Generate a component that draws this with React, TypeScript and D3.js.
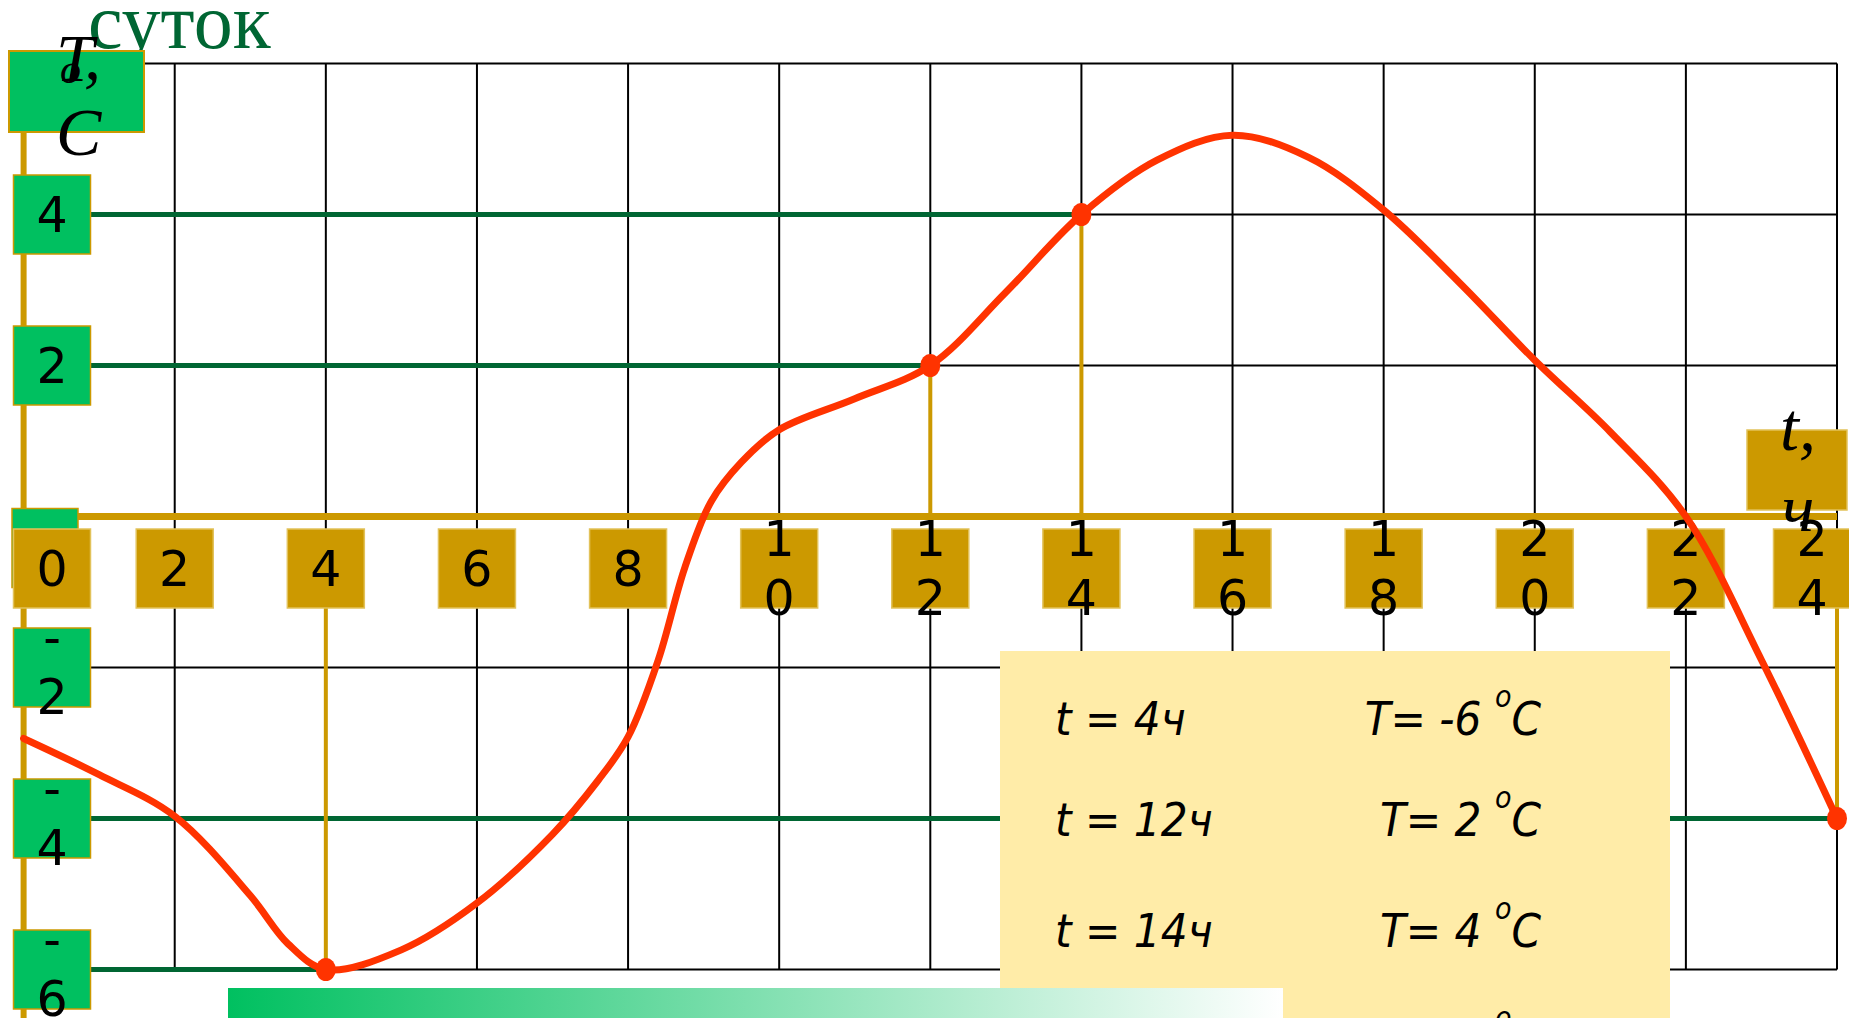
import React, { useEffect } from 'react';
import * as d3 from 'd3';

// temperature over the day
const hours = [0, 1, 2, 3, 3.5, 4, 5, 6, 7, 7.6, 8, 8.4, 8.75, 9.1, 9.5, 10, 11, 12, 13, 14, 15, 16, 17, 18, 19, 20, 21, 22, 23, 24];
const temps = [-2.94, -3.42, -3.97, -5.02, -5.66, -6, -5.74, -5.12, -4.21, -3.5, -2.92, -1.9, -0.68, 0.2, 0.72, 1.15, 1.56, 2, 2.97, 4, 4.72, 5.05, 4.76, 4.06, 3.1, 2.07, 1.12, 0, -1.9, -4];

const hourTicks = [0, 2, 4, 6, 8, 10, 12, 14, 16, 18, 20, 22, 24];
const tempTicks = [4, 2, -2, -4, -6];
const gridTemps = [6, 4, 2, -2, -4, -6];

const markedHours = [4, 12, 14, 24];
const markedTemps = [-6, 2, 4, -4];

const title = 'суток';

const W = 1849;
const H = 1018;
const GOLD = '#CC9900';
const GREEN = '#00C060';
const DARK = '#006633';
const RED = '#FF3300';
const DIGITS = "'DejaVu Sans', Verdana, sans-serif";
const SERIF = "'Liberation Serif', 'Times New Roman', serif";
const TABLE_FONT = "'DejaVu Sans Condensed', 'DejaVu Sans', sans-serif";

const x = d3.scaleLinear().domain([0, 24]).range([23.6, 1837]);
const y = d3.scaleLinear().domain([-6, 6]).range([969.5, 63.5]);

const BOX_W = 77;
const BOX_H = 79;
const yBoxCx = 52;
const xBoxTop = y(0) + 12.5;

function BoxLabel({ cx, top, label }: { cx: number; top: number; label: string }) {
  const parts = label.split('');
  const common = { textAnchor: 'middle' as const, fontFamily: DIGITS, fontSize: 49, fill: '#000' };
  if (parts.length === 1) {
    return <text x={cx} y={top + 57} {...common}>{label}</text>;
  }
  return (
    <>
      {parts.map((p, i) => (
        <text key={i} x={cx} y={top + 27 + i * 59} {...common}>{p}</text>
      ))}
    </>
  );
}

export default function App() {
  useEffect(() => {
    document.body.style.margin = '0';
    document.body.style.overflow = 'hidden';
  }, []);

  const line = d3.line<number>()
    .x(i => x(hours[i]))
    .y(i => y(temps[i]))
    .curve(d3.curveCatmullRom.alpha(0.5));
  const curvePath = line(d3.range(hours.length)) || '';

  const rowBase = [735, 836, 947, 1056];

  return (
    <svg width={W} height={H} style={{ position: 'fixed', left: 0, top: 0, background: '#fff' }}>
      <defs>
        <linearGradient id="fade" x1="0" x2="1" y1="0" y2="0">
          <stop offset="0%" stopColor="#00C060" />
          <stop offset="100%" stopColor="#FFFFFF" />
        </linearGradient>
      </defs>

      {/* title fragment, partly behind the T box */}
      <text x={88} y={48} fontFamily={SERIF} fontSize={78} fill={DARK}>{title}</text>

      {/* black grid */}
      <g stroke="#000" strokeWidth={2}>
        {hourTicks.filter(t => t > 0).map(t => (
          <line key={'v' + t} x1={x(t)} x2={x(t)} y1={y(6)} y2={y(-6)} />
        ))}
        {gridTemps.map(v => (
          <line key={'h' + v} x1={x(0)} x2={x(24)} y1={y(v)} y2={y(v)} />
        ))}
      </g>

      {/* dark green guides from the axis boxes to the marked points */}
      {markedHours.map((h, i) => (
        <line key={'g' + h} x1={yBoxCx + BOX_W / 2} x2={x(h)} y1={y(markedTemps[i])} y2={y(markedTemps[i])}
          stroke={DARK} strokeWidth={5} />
      ))}

      {/* gold drop lines */}
      {markedHours.map((h, i) => {
        const v = markedTemps[i];
        const y1 = v > 0 ? y(v) : xBoxTop + BOX_H;
        const y2 = v > 0 ? y(0) : y(v);
        return <line key={'d' + h} x1={x(h)} x2={x(h)} y1={y1} y2={y2} stroke={GOLD} strokeWidth={4} />;
      })}

      {/* gold axes */}
      <line x1={x(0)} x2={x(0)} y1={60} y2={H} stroke={GOLD} strokeWidth={6} />
      <line x1={20} x2={x(24)} y1={y(0)} y2={y(0)} stroke={GOLD} strokeWidth={7} />

      {/* hidden zero box of the temperature axis */}
      <rect x={12} y={y(0) - 8} width={66} height={BOX_H} fill={GREEN} stroke={GOLD} strokeWidth={1.5} />

      {/* temperature labels */}
      {tempTicks.map(v => {
        const top = y(v) - BOX_H / 2;
        return (
          <g key={'yl' + v}>
            <rect x={yBoxCx - BOX_W / 2} y={top} width={BOX_W} height={BOX_H} fill={GREEN} stroke={GOLD} strokeWidth={1.5} />
            <BoxLabel cx={yBoxCx} top={top} label={String(v)} />
          </g>
        );
      })}

      {/* hour labels */}
      {hourTicks.map(t => {
        const cx = Math.min(Math.max(x(t), 52), 1812);
        return (
          <g key={'xl' + t}>
            <rect x={cx - BOX_W / 2} y={xBoxTop} width={BOX_W} height={BOX_H} fill={GOLD} stroke="#E2C25A" strokeWidth={1.5} />
            <BoxLabel cx={cx} top={xBoxTop} label={String(t)} />
          </g>
        );
      })}

      {/* T, °C header */}
      <rect x={9} y={51} width={135} height={81} fill={GREEN} stroke={GOLD} strokeWidth={2} />
      <g fontFamily={SERIF} fontStyle="italic" fill="#000">
        <text x={56} y={81} fontSize={68}>T</text>
        <text x={60} y={83} fontSize={42}>o</text>
        <text x={84} y={79} fontSize={68}>,</text>
        <text x={56} y={155} fontSize={68}>C</text>
      </g>

      {/* t, ч header */}
      <rect x={1747} y={430} width={100} height={80} fill={GOLD} stroke="#E2C25A" strokeWidth={1.5} />
      <g fontFamily={SERIF} fontStyle="italic" fill="#000" fontSize={68}>
        <text x={1780} y={450}>t,</text>
        <text x={1782} y={531}>ч</text>
      </g>

      {/* curve */}
      <path d={curvePath} fill="none" stroke={RED} strokeWidth={7} strokeLinejoin="round" strokeLinecap="round" />
      {markedHours.map((h, i) => (
        <ellipse key={'p' + h} cx={x(h)} cy={y(markedTemps[i])} rx={10} ry={11.5} fill={RED} />
      ))}

      {/* readings panel */}
      <rect x={1000} y={651} width={670} height={H - 651} fill="#FFECA8" />
      <g fontFamily={TABLE_FONT} fontStyle="italic" fontStretch="condensed" fill="#000">
        {markedHours.map((h, i) => (
          <g key={'r' + h}>
            <text x={1055} y={rowBase[i]} fontSize={47}>{`t = ${h}ч`}</text>
            <text x={1541} y={rowBase[i]} fontSize={47} textAnchor="end">
              {`T= ${markedTemps[i]} `}
              <tspan fontSize={30} dy={-28}>o</tspan>
              <tspan fontSize={47} dy={28}>C</tspan>
            </text>
          </g>
        ))}
      </g>

      {/* fading bar at the bottom */}
      <rect x={228} y={988} width={1055} height={H - 988} fill="url(#fade)" />
    </svg>
  );
}
